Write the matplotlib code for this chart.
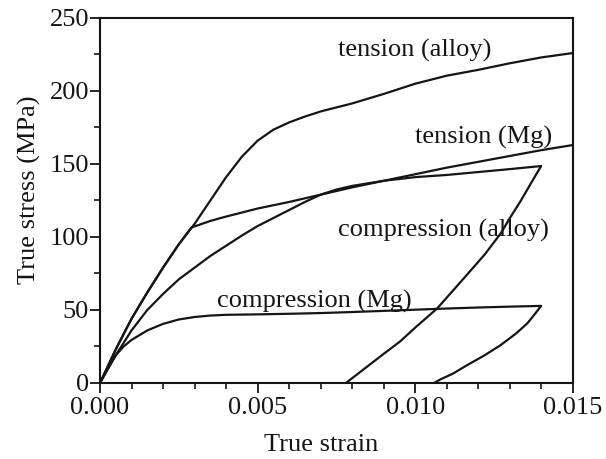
import matplotlib
matplotlib.use("Agg")
import matplotlib.pyplot as plt
from matplotlib.ticker import MultipleLocator, FormatStrFormatter

# curvas (deformação, tensão em MPa)
tensao_liga_x = [0.0, 0.0005, 0.001, 0.0015, 0.002, 0.0025, 0.003, 0.0035, 0.004, 0.0045,
                 0.005, 0.0055, 0.006, 0.0065, 0.007, 0.008, 0.009, 0.010, 0.011, 0.012,
                 0.013, 0.014, 0.015]
tensao_liga_y = [0, 23, 44, 62, 79, 95, 109, 125, 141, 155,
                 166, 173.5, 178.5, 182.5, 186, 191.5, 198, 205, 210.5, 214.5,
                 219, 223, 226]

tensao_mg_x = [0.0, 0.0005, 0.001, 0.0015, 0.002, 0.0025, 0.0029, 0.0035, 0.004, 0.005,
               0.006, 0.007, 0.008, 0.009, 0.010, 0.011, 0.012, 0.013, 0.014, 0.015]
tensao_mg_y = [0, 23, 44, 62, 79, 95, 106.5, 111, 114, 119.5,
               124, 129, 134, 138.5, 143, 147.5, 151.5, 155.5, 159.5, 163]

compressao_liga_x = [0.0, 0.0005, 0.001, 0.0015, 0.002, 0.0025, 0.003, 0.0035, 0.004, 0.0045,
                     0.005, 0.0055, 0.006, 0.0065, 0.007, 0.0075, 0.008, 0.009, 0.010, 0.011,
                     0.012, 0.013, 0.01399,
                     0.0137, 0.01335, 0.013, 0.01271, 0.0122, 0.01149, 0.01069, 0.010,
                     0.00952, 0.009, 0.00846, 0.0078]
compressao_liga_y = [0, 19, 36, 50, 61, 71, 79, 87, 94, 101,
                     107.5, 113, 118.5, 124, 129, 132.5, 135, 138.5, 141, 142.5,
                     144.5, 146.5, 148.6,
                     138, 125, 113, 102.5, 88, 70.5, 51, 38,
                     28.5, 20, 11, 0]

compressao_mg_x = [0.0, 0.00025, 0.0005, 0.00075, 0.001, 0.0015, 0.002, 0.0025, 0.003, 0.0035,
                   0.004, 0.005, 0.006, 0.007, 0.008, 0.009, 0.010, 0.011, 0.012, 0.013,
                   0.01399,
                   0.0138, 0.01356, 0.0132, 0.01271, 0.0122, 0.01165, 0.0112, 0.0108, 0.01059]
compressao_mg_y = [0, 10, 19, 25, 29.5, 36, 40.5, 43.5, 45.2, 46.2,
                   46.7, 47, 47.4, 47.9, 48.6, 49.4, 50.2, 51, 51.7, 52.3,
                   52.8,
                   47.5, 41, 34, 26, 19, 12.3, 6.5, 2.5, 0]

rotulos = ["tension (alloy)", "tension (Mg)", "compression (alloy)", "compression (Mg)"]
rotulos_x = [0.00754, 0.0100, 0.00754, 0.00371]
rotulos_y = [228, 168, 104.8, 55.7]

plt.rcParams['font.family'] = ['Liberation Serif', 'DejaVu Serif']

fig = plt.figure(figsize=(6.06, 4.59), dpi=100)
ax = fig.add_axes([0.165, 0.1656, 0.7805, 0.7952])

cor = '#151515'
for xs, ys in [(tensao_liga_x, tensao_liga_y), (tensao_mg_x, tensao_mg_y),
               (compressao_liga_x, compressao_liga_y), (compressao_mg_x, compressao_mg_y)]:
    ax.plot(xs, ys, color=cor, lw=1.6, solid_joinstyle='round')

for texto, tx, ty in zip(rotulos, rotulos_x, rotulos_y):
    ax.text(tx, ty, texto, fontsize=19, color=cor, ha='left', va='center')

ax.set_xlim(0, 0.015)
ax.set_ylim(0, 250)
ax.xaxis.set_major_locator(MultipleLocator(0.005))
ax.xaxis.set_minor_locator(MultipleLocator(0.001))
ax.xaxis.set_major_formatter(FormatStrFormatter('%.3f'))
ax.yaxis.set_major_locator(MultipleLocator(50))
ax.yaxis.set_minor_locator(MultipleLocator(25))

ax.tick_params(which='major', direction='out', length=7, width=1.3, labelsize=19,
               colors=cor, pad=1)
ax.tick_params(axis='x', which='major', pad=3)
ax.tick_params(which='minor', direction='out', length=4, width=1.2, colors=cor)
for lado in ax.spines.values():
    lado.set_linewidth(1.5)
    lado.set_color(cor)

ax.set_xlabel("True strain", fontsize=19, color=cor)
ax.set_ylabel("True stress (MPa)", fontsize=19, color=cor)
ax.xaxis.set_label_coords(0.467, -0.14)
ax.yaxis.set_label_coords(-0.125, 0.53)

fig.savefig("out.png", dpi=100)
